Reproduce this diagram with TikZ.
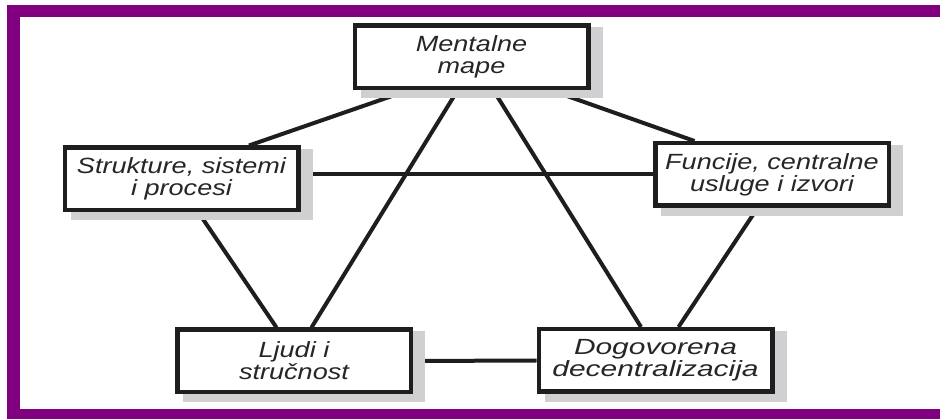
\documentclass[tikz,border=0pt]{standalone}
\usepackage{fontspec}
\newfontfamily\lblfont[FakeStretch=1.23]{Liberation Sans}
\newfontfamily\lblwide[FakeStretch=1.36]{Liberation Sans}
\usetikzlibrary{calc}
\pgfdeclarelayer{links}
\pgfdeclarelayer{shades}
\pgfsetlayers{links,shades,main}
\definecolor{framepurple}{RGB}{128,0,128}
\definecolor{shadegray}{RGB}{208,208,210}
\definecolor{inkgray}{RGB}{30,30,30}

\begin{document}
\begin{tikzpicture}[x=1pt,y=-1pt,
  box/.style={draw=inkgray, line width=4.5pt, fill=white,
    minimum width=233.5pt, minimum height=62.5pt, inner sep=0pt,
    align=center, text=black!85,
    font=\lblfont\itshape\fontsize{22}{22}\selectfont},
  widebox/.style={box, font=\lblwide\itshape\fontsize{22}{22}\selectfont},
  link/.style={draw=inkgray, line width=4pt},
  shade/.style={fill=shadegray}]
\useasboundingbox (0,0) rectangle (940,419);

% purple frame (top, left, bottom)
\fill[framepurple] (7,5) rectangle (940,17);
\fill[framepurple] (7,5) rectangle (20,419);
\fill[framepurple] (7,409) rectangle (940,419);

% boxes
\node[box] (M) at (471.5,57) {Mentalne\\mape};
\node[box] (S) at (181.5,179) {Strukture, sistemi\\i procesi};
\node[box] (F) at (772,174.5) {Funcije, centralne\\usluge i izvori};
\node[box] (L) at (294,361) {Ljudi i\\stručnost};
\node[widebox] (D) at (655.5,360.5) {Dogovorena\\decentralizacija};

% drop shadows
\begin{pgfonlayer}{shades}
  \foreach \n in {M,S,F,L,D}
    \fill[shade] ([shift={(8pt,-8pt)}]\n.south west) rectangle ([shift={(12pt,-4pt)}]\n.north east);
\end{pgfonlayer}

% connections
\begin{pgfonlayer}{links}
  \draw[link] ([xshift=-63.5pt]M.south) -- ([xshift=67.5pt]S.north);
  \draw[link] ([xshift=80pt]M.south) -- ([xshift=-77.5pt]F.north);
  \draw[link] ([xshift=-14pt]M.south) -- ([xshift=17.5pt]L.north);
  \draw[link] ([xshift=22pt]M.south) -- ([xshift=-14.5pt]D.north);
  \draw[link] ([xshift=17pt]S.south) -- ([xshift=-17.5pt]L.north);
  \draw[link] ([xshift=-14.5pt]F.south) -- ([xshift=23pt]D.north);
  \draw[link] (S.east |- F.west) -- (F.west);
  \draw[link] (L.east) -- (D.west);
\end{pgfonlayer}
\end{tikzpicture}
\end{document}
